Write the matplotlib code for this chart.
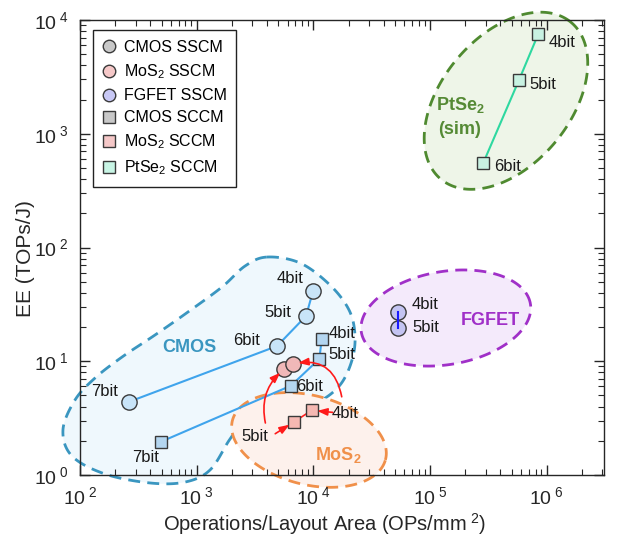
import numpy as np
import matplotlib
matplotlib.use("Agg")
import matplotlib.pyplot as plt
from matplotlib.patches import Polygon
from matplotlib.lines import Line2D
from matplotlib.ticker import LogLocator, FuncFormatter, NullFormatter

plt.rcParams['font.family'] = ['Liberation Sans', 'DejaVu Sans']
plt.rcParams['mathtext.fontset'] = 'custom'
plt.rcParams['mathtext.rm'] = 'Liberation Sans'
plt.rcParams['mathtext.it'] = 'Liberation Sans:italic'
plt.rcParams['mathtext.bf'] = 'Liberation Sans:bold'

# ---------------- data ----------------
bits_cmos = ['7bit', '6bit', '5bit', '4bit']
cmos_sscm_x = [263, 4880, 8650, 9930]
cmos_sscm_y = [4.4, 13.6, 25.0, 41.5]
cmos_sccm_x = [494, 6430, 11250, 11780]
cmos_sccm_y = [1.96, 6.1, 10.5, 15.7]

bits_mos2 = ['5bit', '4bit']
mos2_sscm_x = [5640, 6650]
mos2_sscm_y = [8.55, 9.5]
mos2_sccm_x = [6850, 9660]
mos2_sccm_y = [2.94, 3.7]

bits_fgfet = ['4bit', '5bit']
fgfet_sscm_x = [53500, 53500]
fgfet_sscm_y = [27.3, 19.7]

bits_ptse2 = ['4bit', '5bit', '6bit']
ptse2_sccm_x = [845000, 578000, 286000]
ptse2_sccm_y = [7530, 2970, 557]

legend_labels = ['CMOS SSCM', 'MoS$_2$ SSCM', 'FGFET SSCM',
                 'CMOS SCCM', 'MoS$_2$ SCCM', 'PtSe$_2$ SCCM']

# region outlines (log10 space)
cmos_region = [(3.602, 1.916), (3.885, 1.864), (4.142, 1.670), (4.305, 1.451),
               (4.356, 1.231), (4.331, 1.011), (4.228, 0.791), (4.04, 0.64),
               (3.79, 0.555), (3.55, 0.545), (3.42, 0.50), (3.28, 0.308),
               (3.114, 0.044), (2.900, -0.062), (2.600, -0.070), (2.214, 0.009),
               (1.931, 0.167), (1.854, 0.396), (1.957, 0.659), (2.129, 0.853),
               (2.360, 1.037), (2.643, 1.231), (2.925, 1.433), (3.217, 1.653),
               (3.414, 1.837)]
# (center lx, center ly, semi-major, semi-minor, angle deg)
mos2_ell = (3.962, 0.308, 0.678, 0.391, -15)
fgfet_ell = (5.135, 1.380, 0.735, 0.409, 10)
ptse2_ell = (5.650, 3.290, 0.887, 0.557, 52)


def closed_spline(pts, n=30):
    P = np.array(pts, dtype=float)
    N = len(P)
    out = []
    t = np.linspace(0, 1, n, endpoint=False)[:, None]
    for i in range(N):
        p0, p1, p2, p3 = P[i - 1], P[i], P[(i + 1) % N], P[(i + 2) % N]
        out.append(0.5 * ((2 * p1) + (-p0 + p2) * t + (2 * p0 - 5 * p1 + 4 * p2 - p3) * t ** 2
                          + (-p0 + 3 * p1 - 3 * p2 + p3) * t ** 3))
    return np.vstack(out)


def ellipse_pts(cx, cy, a, b, ang, n=300):
    t = np.linspace(0, 2 * np.pi, n)
    th = np.deg2rad(ang)
    x = a * np.cos(t) * np.cos(th) - b * np.sin(t) * np.sin(th)
    y = a * np.cos(t) * np.sin(th) + b * np.sin(t) * np.cos(th)
    return np.column_stack([cx + x, cy + y])


fig = plt.figure(figsize=(6.19, 5.43), dpi=100)
ax = fig.add_axes([80 / 619, 68 / 543, 524 / 619, 455 / 543])
ax.set_xscale('log')
ax.set_yscale('log')
ax.set_xlim(1e2, 10 ** 6.49)
ax.set_ylim(1, 1e4)


def add_region(logpts, edge, face, z):
    pts = 10 ** np.asarray(logpts)
    poly = Polygon(pts, closed=True, facecolor=face, edgecolor=edge, lw=2.0,
                   linestyle=(0, (4.3, 2.6)), zorder=z, clip_on=False)
    ax.add_patch(poly)


add_region(closed_spline(cmos_region), '#3a96c0', '#eff8fd', 1)
add_region(ellipse_pts(*mos2_ell), '#f0904a', '#fdf1ec', 1.1)
add_region(ellipse_pts(*fgfet_ell), '#a030c8', '#f4eafb', 1)
add_region(ellipse_pts(*ptse2_ell), '#4f8a30', '#eef5e8', 1)

# lines
ax.plot(cmos_sscm_x, cmos_sscm_y, color='#3fa4ec', lw=1.5, zorder=3)
ax.plot(cmos_sccm_x, cmos_sccm_y, color='#3fa4ec', lw=1.5, zorder=3)
ax.plot(mos2_sscm_x, mos2_sscm_y, color='#ff2020', lw=1.2, zorder=3)
ax.plot(mos2_sccm_x, mos2_sccm_y, color='#ff2020', lw=1.2, zorder=3)
ax.plot(fgfet_sscm_x, fgfet_sscm_y, color='#1a1aff', lw=1.5, zorder=5)
ax.plot(ptse2_sccm_x, ptse2_sccm_y, color='#2ed8a0', lw=1.5, zorder=3)

# markers
ec = '#3a3a3a'
ax.plot(cmos_sscm_x, cmos_sscm_y, 'o', ms=11, mfc='#c8e4f8', mec=ec, mew=1.0, ls='none', zorder=4)
ax.plot(cmos_sccm_x, cmos_sccm_y, 's', ms=8, mfc='#b4d6f0', mec=ec, mew=1.0, ls='none', zorder=4)
ax.plot(mos2_sscm_x, mos2_sscm_y, 'o', ms=11, mfc='#f0b8b8', mec=ec, mew=1.0, ls='none', zorder=4)
ax.plot(mos2_sccm_x, mos2_sccm_y, 's', ms=8, mfc='#f5b8b2', mec=ec, mew=1.0, ls='none', zorder=4)
ax.plot(fgfet_sscm_x, fgfet_sscm_y, 'o', ms=11, mfc='#c4c4f2', mec=ec, mew=1.0, ls='none', zorder=4)
ax.plot(ptse2_sccm_x, ptse2_sccm_y, 's', ms=8, mfc='#c8f2e2', mec=ec, mew=1.0, ls='none', zorder=4)

# bit labels (offsets in pixels)
fs = 12
def lab(xs, ys, labels, offs, ha='center'):
    for x, y, t, o in zip(xs, ys, labels, offs):
        ax.annotate(t, (x, y), xytext=o, textcoords='offset pixels', ha=ha, va='center',
                    fontsize=fs, color='#1a1a1a', zorder=6)

lab(cmos_sscm_x, cmos_sscm_y, bits_cmos, [(-24, 10), (-30, 6), (-28, 3), (-23, 12)])
lab(cmos_sccm_x, cmos_sccm_y, bits_cmos, [(-15, -16), (19, -1), (22, 4), (20, 5)])
lab(fgfet_sscm_x, fgfet_sscm_y, bits_fgfet, [(27, 7), (27, 0)])
lab(ptse2_sccm_x, ptse2_sccm_y, bits_ptse2, [(24, -8), (24, -5), (24, -4)])
lab(mos2_sccm_x, mos2_sccm_y, bits_mos2, [(-39, -15), (33, -3)])

# red arrows
red = '#ff1a1a'
def arrow(xy, off, rad):
    ax.annotate('', xy=xy, xytext=off, textcoords='offset pixels',
                arrowprops=dict(arrowstyle='-|>,head_length=0.6,head_width=0.22', color=red,
                                lw=1.2, shrinkA=0, shrinkB=4,
                                connectionstyle='arc3,rad=%s' % rad), zorder=7)

arrow((mos2_sscm_x[0], mos2_sscm_y[0]), (-19, -54), -0.3)
arrow((mos2_sscm_x[1], mos2_sscm_y[1]), (49, -33), 0.5)
arrow((mos2_sccm_x[0], mos2_sccm_y[0]), (-19, -12), 0)
arrow((mos2_sccm_x[1], mos2_sccm_y[1]), (21, -2), 0)

# region names
ax.text(859, 13.3, 'CMOS', color='#3a96c0', fontsize=13, fontweight='bold', ha='center', va='center', zorder=6)
ax.text(16250, 1.50, r'MoS$_\mathbf{2}$', color='#f0904a', fontsize=13, fontweight='bold', ha='center', va='center', zorder=6)
ax.text(326000, 22.6, 'FGFET', color='#a030c8', fontsize=13, fontweight='bold', ha='center', va='center', zorder=6)
ax.text(180000, 1790, r'PtSe$_\mathbf{2}$', color='#558a35', fontsize=13, fontweight='bold', ha='center', va='center', zorder=6)
ax.text(180000, 1079, '(sim)', color='#558a35', fontsize=13, fontweight='bold', ha='center', va='center', zorder=6)

# legend
lm = dict(ls='none', mec=ec, mew=1.0, ms=9)
handles = [Line2D([], [], marker='o', mfc='#c8c8c8', **lm),
           Line2D([], [], marker='o', mfc='#f5c8c8', **lm),
           Line2D([], [], marker='o', mfc='#c8c8f5', **lm),
           Line2D([], [], marker='s', mfc='#c8c8c8', **dict(lm, ms=8)),
           Line2D([], [], marker='s', mfc='#f5c8c8', **dict(lm, ms=8)),
           Line2D([], [], marker='s', mfc='#c8f5e5', **dict(lm, ms=8))]
leg = ax.legend(handles, legend_labels, loc='upper left', bbox_to_anchor=(0.024, 0.977),
                fontsize=11.5, frameon=True, fancybox=False, framealpha=1, edgecolor='#222222',
                handlelength=0.9, handletextpad=0.45, labelspacing=0.45, borderpad=0.6,
                borderaxespad=0)
leg.get_frame().set_linewidth(1.0)
leg.set_zorder(10)

# axes styling
for s in ax.spines.values():
    s.set_color('#262626')
    s.set_linewidth(1.0)
    s.set_zorder(8)

fmt = FuncFormatter(lambda v, p: r'$\mathregular{10^{\ %d}}$' % int(round(np.log10(v))))
ax.xaxis.set_major_locator(LogLocator(base=10, numticks=10))
ax.yaxis.set_major_locator(LogLocator(base=10, numticks=10))
ax.xaxis.set_minor_locator(LogLocator(base=10, subs=np.arange(2, 10), numticks=20))
ax.yaxis.set_minor_locator(LogLocator(base=10, subs=np.arange(2, 10), numticks=20))
ax.xaxis.set_major_formatter(fmt)
ax.yaxis.set_major_formatter(fmt)
ax.xaxis.set_minor_formatter(NullFormatter())
ax.yaxis.set_minor_formatter(NullFormatter())
ax.tick_params(which='both', direction='in', top=True, right=True, colors='#262626',
               labelsize=14, labelcolor='#262626')
ax.tick_params(which='major', length=7, width=1.0, pad=8)
ax.tick_params(which='minor', length=4, width=0.8)
ax.set_axisbelow(False)

ax.set_xlabel(r'Operations/Layout Area (OPs/mm$^{\ 2}$)', fontsize=14.5, color='#262626')
ax.set_ylabel('EE (TOPs/J)', fontsize=15, color='#262626')
ax.xaxis.set_label_coords(0.466, -0.080)
ax.yaxis.set_label_coords(-0.086, 0.475)

fig.savefig('out.png', dpi=100)
